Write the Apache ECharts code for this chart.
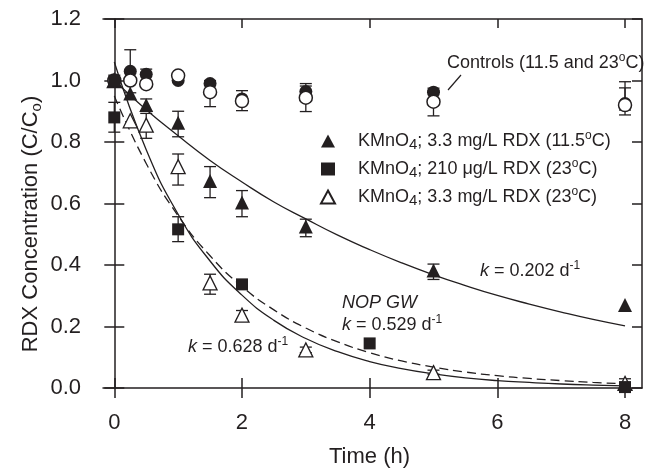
<!DOCTYPE html>
<html><head><meta charset="utf-8">
<script src="https://cdn.jsdelivr.net/npm/echarts@6/dist/echarts.min.js"></script>
<style>html,body{margin:0;padding:0;background:#fff}#c{width:650px;height:469px}</style>
</head><body><div id="c"></div>
<script>
// ---- data ----
const xTicks = [0, 2, 4, 6, 8];
const yTicks = [0, 0.2, 0.4, 0.6, 0.8, 1.0, 1.2];

const ctrlTimes = [0, 0.25, 0.5, 1, 1.5, 2, 3, 5, 8];
const ctrlFilled = [1.00, 1.03, 1.02, 1.00, 0.99, 0.94, 0.964, 0.962, 0.925];
const ctrlFilledLow = [null, 0.96, 1.00, null, null, null, 0.946, null, 0.904];
const ctrlFilledHigh = [null, 1.10, 1.037, null, null, null, 0.982, null, 0.996];
const ctrlOpen = [1.00, 1.00, 0.988, 1.016, 0.962, 0.933, 0.944, 0.931, 0.92];
const ctrlOpenLow = [null, null, null, null, 0.915, 0.902, 0.899, 0.885, 0.888];
const ctrlOpenHigh = [null, null, null, null, 1.00, 0.967, 0.99, 0.975, 0.976];

const triTimes = [0, 0.25, 0.5, 1, 1.5, 2, 3, 5, 8];
const triCold = [1.00, 0.958, 0.92, 0.863, 0.673, 0.603, 0.525, 0.382, 0.27];
const triColdLow = [null, null, 0.90, 0.817, 0.619, 0.557, 0.492, 0.353, null];
const triColdHigh = [null, null, 0.94, 0.90, 0.72, 0.642, 0.549, 0.403, null];

const sqTimes = [0, 0, 1, 2, 4, 8];
const sqVals = [1.00, 0.88, 0.516, 0.337, 0.145, 0.003];
const sqLow = [null, 0.832, 0.476, null, null, null];
const sqHigh = [null, 0.929, 0.557, null, null, null];

const triWarm = [1.00, 0.869, 0.855, 0.72, 0.342, 0.237, 0.124, 0.05, 0.015];
const triWarmLow = [null, null, 0.812, 0.66, 0.305, 0.225, 0.115, 0.045, 0.005];
const triWarmHigh = [null, null, 0.893, 0.761, 0.37, 0.252, 0.133, 0.058, 0.03];

const fitTimes = [0, 0.5, 1, 1.5, 2, 2.5, 3, 3.5, 4, 4.5, 5, 5.5, 6, 6.5, 7, 7.5, 8];
const fitSlow = [1.00, 0.905, 0.82, 0.74, 0.67, 0.605, 0.55, 0.497, 0.45, 0.407, 0.368, 0.333, 0.301, 0.273, 0.247, 0.223, 0.202];
const fitNOP  = [0.95, 0.73, 0.56, 0.43, 0.33, 0.254, 0.195, 0.15, 0.115, 0.088, 0.068, 0.052, 0.04, 0.031, 0.024, 0.018, 0.014];
const fitFast = [1.06, 0.775, 0.565, 0.413, 0.302, 0.22, 0.161, 0.118, 0.086, 0.063, 0.046, 0.033, 0.024, 0.018, 0.013, 0.0095, 0.007];

const seriesNames = ['KMnO4; 3.3 mg/L RDX (11.5°C)', 'KMnO4; 210 μg/L RDX (23°C)', 'KMnO4; 3.3 mg/L RDX (23°C)'];

// ---- chart ----
const FONT = '"Liberation Sans", Arial, Helvetica, sans-serif';
const INK = '#231f20';
const XMIN = -0.177, XMAX = 8.266;

function pts(xs, ys) { return xs.map((x, i) => [x, ys[i]]); }
function errPts(xs, lo, hi) {
  const out = [];
  xs.forEach((x, i) => { if (lo[i] != null) out.push([x, lo[i], hi[i]]); });
  return out;
}
function errSeries(data, z) {
  return {
    type: 'custom', xAxisIndex: 0, yAxisIndex: 0, z: z, silent: true, data: data,
    encode: { x: 0, y: [1, 2] },
    renderItem: function (params, api) {
      const x = api.value(0);
      const lo = api.coord([x, api.value(1)]);
      const hi = api.coord([x, api.value(2)]);
      const w = 6;
      const st = { stroke: INK, lineWidth: 1.3 };
      return { type: 'group', children: [
        { type: 'line', shape: { x1: lo[0], y1: lo[1], x2: hi[0], y2: hi[1] }, style: st },
        { type: 'line', shape: { x1: lo[0] - w, y1: lo[1], x2: lo[0] + w, y2: lo[1] }, style: st },
        { type: 'line', shape: { x1: hi[0] - w, y1: hi[1], x2: hi[0] + w, y2: hi[1] }, style: st }
      ]};
    }
  };
}
function fitSeries(vals, dashed) {
  return {
    type: 'line', xAxisIndex: 0, yAxisIndex: 0, data: pts(fitTimes, vals), smooth: true,
    showSymbol: false, silent: true, z: 1,
    lineStyle: { color: INK, width: 1.3, type: dashed ? [9, 5] : 'solid' }
  };
}
const lineSt = { color: INK, width: 1.5 };
const richSmall = {
  sub: { fontSize: 15, lineHeight: 15, verticalAlign: 'bottom', fontFamily: FONT, color: INK },
  sup: { fontSize: 12, lineHeight: 12, verticalAlign: 'top', fontFamily: FONT, color: INK },
  it: { fontStyle: 'italic', fontSize: 18, lineHeight: 22, fontFamily: FONT, color: INK }
};
function richName(s) {
  return s.replace('KMnO4', 'KMnO{sub|4}').replace('°C', '{sup|o}C');
}
const base = { fontFamily: FONT, fontSize: 18, lineHeight: 22, fill: INK, rich: richSmall };
function txt(x, y, text, extra) {
  return { type: 'text', x: x, y: y, style: Object.assign({}, base, { text: text, verticalAlign: 'middle' }, extra || {}) };
}

const chart = echarts.init(document.getElementById('c'), null, { renderer: 'canvas' });
chart.setOption({
  animation: false,
  backgroundColor: '#fff',
  grid: { left: 103, right: 8, top: 19, bottom: 81 },
  xAxis: [
    { type: 'value', position: 'bottom', min: XMIN, max: XMAX,
      axisLine: { onZero: false, lineStyle: lineSt },
      axisTick: { length: 10, customValues: xTicks, lineStyle: lineSt },
      axisLabel: { customValues: xTicks, margin: 24, fontSize: 22, color: INK, fontFamily: FONT },
      splitLine: { show: false } },
    { type: 'value', position: 'bottom', min: XMIN, max: XMAX,
      axisLine: { show: false, onZero: false },
      axisTick: { inside: true, length: 10, customValues: xTicks, lineStyle: lineSt },
      axisLabel: { show: false }, splitLine: { show: false } },
    { type: 'value', position: 'top', min: XMIN, max: XMAX,
      axisLine: { show: true, onZero: false, lineStyle: lineSt },
      axisTick: { inside: true, length: 9, customValues: xTicks, lineStyle: lineSt },
      axisLabel: { show: false }, splitLine: { show: false } }
  ],
  yAxis: [
    { type: 'value', position: 'left', min: 0, max: 1.2, interval: 0.2,
      axisLine: { onZero: true, onZeroAxisIndex: 0, lineStyle: lineSt },
      axisTick: { length: 10, lineStyle: lineSt },
      axisLabel: { margin: 22, fontSize: 22, color: INK, fontFamily: FONT, formatter: v => v.toFixed(1) },
      splitLine: { show: false } },
    { type: 'value', position: 'left', min: 0, max: 1.2, interval: 0.2,
      axisLine: { show: false, onZero: true, onZeroAxisIndex: 0 },
      axisTick: { inside: true, length: 10, lineStyle: lineSt },
      axisLabel: { show: false }, splitLine: { show: false } },
    { type: 'value', position: 'right', min: 0, max: 1.2, interval: 0.2,
      axisLine: { show: true, onZero: false, lineStyle: lineSt },
      axisTick: { inside: true, length: 10, lineStyle: lineSt },
      axisLabel: { show: false }, splitLine: { show: false } }
  ],
  legend: {
    orient: 'vertical', left: 320, top: 130, padding: 0,
    itemWidth: 14, itemHeight: 13, itemGap: 6,
    data: seriesNames,
    formatter: richName,
    textStyle: { fontSize: 18, lineHeight: 22, fontFamily: FONT, color: INK, rich: richSmall, padding: [0, 0, 0, 18] }
  },
  series: [
    fitSeries(fitSlow, false),
    fitSeries(fitNOP, true),
    fitSeries(fitFast, false),
    errSeries(errPts(ctrlTimes, ctrlFilledLow, ctrlFilledHigh), 2),
    errSeries(errPts(ctrlTimes, ctrlOpenLow, ctrlOpenHigh), 2),
    errSeries(errPts(triTimes, triColdLow, triColdHigh), 2),
    errSeries(errPts(sqTimes, sqLow, sqHigh), 2),
    errSeries(errPts(triTimes, triWarmLow, triWarmHigh), 2),
    { name: 'Control 11.5°C', type: 'scatter', data: pts(ctrlTimes, ctrlFilled), symbol: 'circle', symbolSize: 13, z: 3,
      itemStyle: { color: INK, opacity: 1 } },
    { name: 'Control 23°C', type: 'scatter', data: pts(ctrlTimes, ctrlOpen), symbol: 'circle', symbolSize: 13, z: 4,
      itemStyle: { color: '#fff', borderColor: INK, borderWidth: 1.5, opacity: 1 } },
    { name: seriesNames[2], type: 'scatter', data: pts(triTimes, triWarm), symbol: 'triangle', symbolSize: 14, z: 5,
      itemStyle: { color: '#fff', borderColor: INK, borderWidth: 1.3, opacity: 1 } },
    { name: seriesNames[0], type: 'scatter', data: pts(triTimes, triCold), symbol: 'triangle', symbolSize: 14, z: 6,
      itemStyle: { color: INK, opacity: 1 } },
    { name: seriesNames[1], type: 'scatter', data: pts(sqTimes, sqVals), symbol: 'rect', symbolSize: 12, z: 7,
      itemStyle: { color: INK, opacity: 1 } }
  ],
  graphic: [
    txt(447, 63, 'Controls (11.5 and 23{sup|o}C)'),
    { type: 'line', shape: { x1: 448, y1: 90, x2: 461, y2: 75 }, style: { stroke: INK, lineWidth: 1.2 } },
    txt(480, 271, '{it|k} = 0.202 d{sup|-1}'),
    txt(342, 303, 'NOP GW', { fontStyle: 'italic' }),
    txt(342, 325, '{it|k} = 0.529 d{sup|-1}'),
    txt(188, 347, '{it|k} = 0.628 d{sup|-1}'),
    { type: 'text', x: 369.5, y: 457, style: { text: 'Time (h)', fontFamily: FONT, fontSize: 22, fill: INK, align: 'center', verticalAlign: 'middle' } },
    { type: 'text', x: 31, y: 224, rotation: Math.PI / 2,
      style: { text: 'RDX Concentration (C/C{o|o})', fontFamily: FONT, fontSize: 22, lineHeight: 26, fill: INK, align: 'center', verticalAlign: 'middle',
        rich: { o: { fontSize: 15, lineHeight: 15, verticalAlign: 'bottom', fontFamily: FONT, color: INK } } } }
  ]
});
</script>
</body></html>
